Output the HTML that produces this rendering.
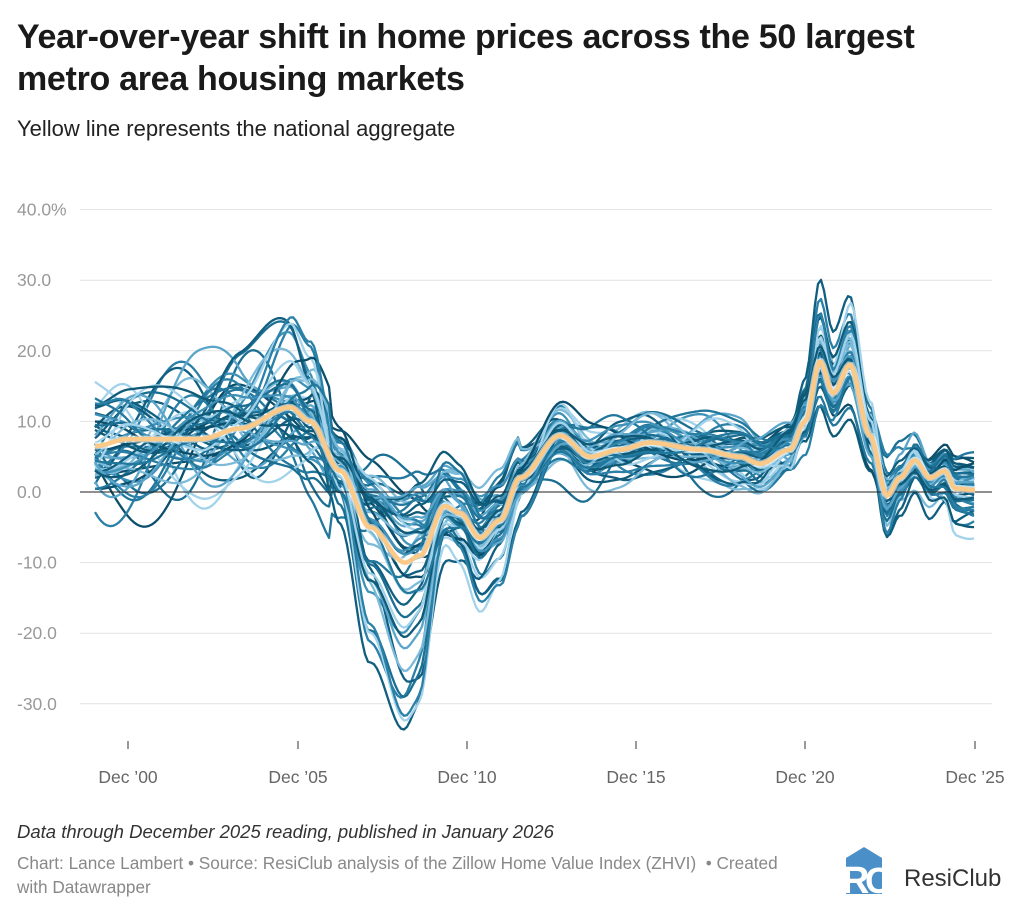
<!DOCTYPE html>
<html><head><meta charset="utf-8">
<style>
body{margin:0;width:1024px;height:913px;background:#fff;font-family:"Liberation Sans",sans-serif;overflow:hidden;position:relative}
.t{position:absolute;left:17px;top:16px;font-size:34px;font-weight:bold;line-height:42px;color:#1a1a1a;letter-spacing:-0.3px}
.s{position:absolute;left:17px;top:116px;font-size:22px;color:#222}
.f1{position:absolute;left:17px;top:821px;font-size:18.5px;font-style:italic;color:#333}
.f2{position:absolute;left:17px;top:851px;font-size:17.2px;color:#888;line-height:24px;width:820px}
</style></head><body>
<div class="t">Year-over-year shift in home prices across the 50 largest<br>metro area housing markets</div>
<div class="s">Yellow line represents the national aggregate</div>
<svg id="c" width="1024" height="913" style="position:absolute;left:0;top:0"></svg>
<div class="f1">Data through December 2025 reading, published in January 2026</div>
<div class="f2">Chart: Lance Lambert • Source: ResiClub analysis of the Zillow Home Value Index (ZHVI) &nbsp;• Created<br>with Datawrapper</div>
<svg width="180" height="60" style="position:absolute;left:840px;top:842px">
<polygon points="6,16 24,5 42,16 42,52 6,52" fill="#4a8fc7"/>
<text x="2" y="51" font-family="Liberation Sans" font-weight="bold" font-size="38" fill="#fff">R</text>
<text x="25" y="51" font-family="Liberation Sans" font-weight="bold" font-size="36" fill="#fff">C</text>
<text x="64" y="44" font-family="Liberation Sans" font-size="24" fill="#333">ResiClub</text>
</svg>
<script>
var s=document.getElementById('c'),h='';
function Y(v){return 492-v*7.06}
var ticks=[40,30,20,10,0,-10,-20,-30];
ticks.forEach(function(v){var y=Y(v);
if(v!=0)h+='<line x1="80" x2="992" y1="'+y+'" y2="'+y+'" stroke="#e2e2e2" stroke-width="1"/>';
h+='<text x="17" y="'+(y+6)+'" font-size="17.5" fill="#999" font-family="Liberation Sans">'+(v==40?'40.0%':v.toFixed(1))+'</text>';});
var xl=[["Dec ’00",128],["Dec ’05",298],["Dec ’10",467],["Dec ’15",636],["Dec ’20",805],["Dec ’25",975]];
xl.forEach(function(a){h+='<line x1="'+a[1]+'" x2="'+a[1]+'" y1="741" y2="749" stroke="#333"/><text x="'+a[1]+'" y="783" text-anchor="middle" font-size="17.5" fill="#666" font-family="Liberation Sans">'+a[0]+'</text>';});
var K=[[95,6.5],[128,7.5],[200,7.5],[240,9],[290,12],[310,10],[340,3],[370,-5],[405,-10],[420,-9],[445,-2],[460,-3],[480,-6.5],[500,-4],[520,2],[560,8],[590,5],[620,6],[650,7],[700,6],[740,5],[760,4],[790,6],[805,10],[820,18.5],[833,14],[850,18],[870,8],[887,-0.5],[900,2],[915,4.5],[930,2],[945,3],[955,0.5],[975,0.3]];
function nat(x){for(var i=0;i<K.length-1;i++){if(x<=K[i+1][0]){var t=(x-K[i][0])/(K[i+1][0]-K[i][0]);t=t*t*(3-2*t);return K[i][1]+(K[i+1][1]-K[i][1])*t;}}return K[K.length-1][1];}
var seed=11;function r(){seed=(seed*16807)%2147483647;return seed/2147483647;}
var cols=['#0b4f6c','#105f80','#1a6f93','#2a80a6','#3f91b8','#5aa5c9','#7bbad8','#a3d3ea','#0e5a77','#21779c'];
function sm(x,a,b){if(x<=a)return 0;if(x>=b)return 1;var t=(x-a)/(b-a);return t*t*(3-2*t);}
for(var k=0;k<50;k++){
var sc=0.4+r()*r()*2.4,w=[],n=4;
for(var j=0;j<n;j++)w.push([r()*4.5,0.01+r()*0.04,r()*6.28]);
var off=(r()-0.5)*3,d='';
for(var x=95;x<=975;x+=3){var nv=nat(x),f=1-0.6*sm(x,415,450),v=nv+(nv-5)*(sc-1)*f+off*(x<520?1:0.6);
var a=x<330?1.1:(x<520?0.7:0.55);
for(j=0;j<n;j++)v+=w[j][0]*Math.sin(x*w[j][1]+w[j][2])*a;
d+=(x==95?'M':'L')+x+','+Y(v).toFixed(1);}
h+='<path d="'+d+'" fill="none" stroke="'+cols[k%10]+'" stroke-width="2.3" stroke-linejoin="round"/>';}
h+='<line x1="80" x2="992" y1="492" y2="492" stroke="#222" stroke-width="1"/>';
var d='';for(var x=95;x<=975;x+=2)d+=(x==95?'M':'L')+x+','+Y(nat(x)).toFixed(1);
h+='<path d="'+d+'" fill="none" stroke="#fff" stroke-width="7" opacity="0.6"/><path d="'+d+'" fill="none" stroke="#fbc988" stroke-width="4.5"/>';
s.innerHTML=h;
</script>
</body></html>
